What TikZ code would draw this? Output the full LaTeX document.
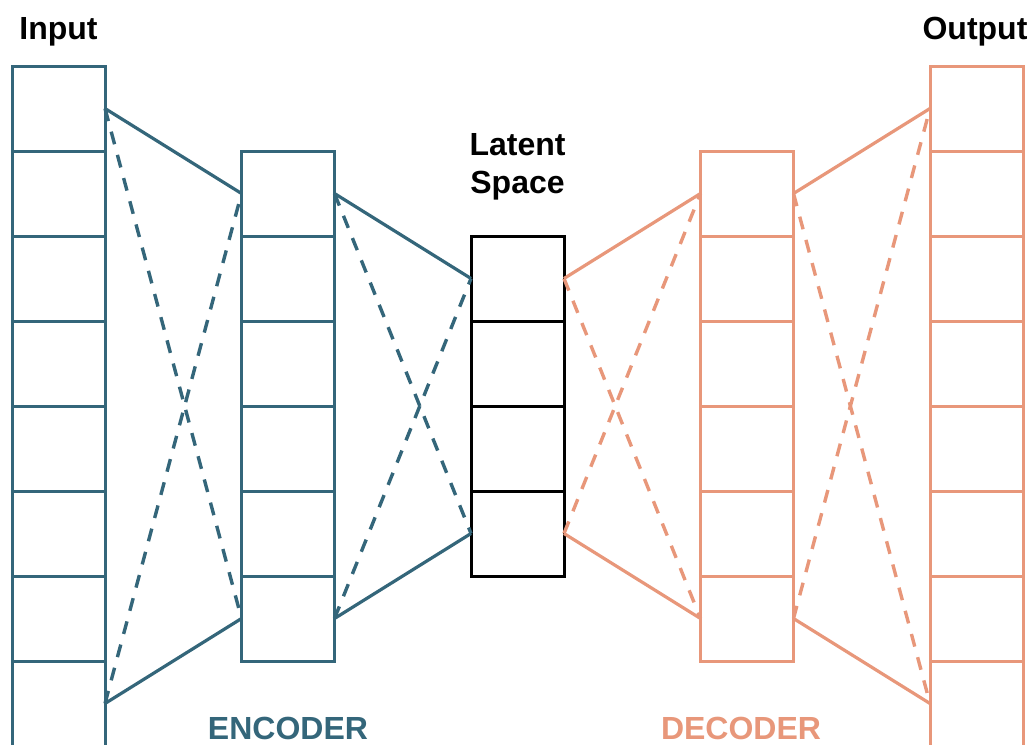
\documentclass[tikz,border=0pt]{standalone}
\usepackage{fontspec}
\setmainfont{Liberation Sans}
\usepackage{tikz}
\usepackage{xcolor}
\usetikzlibrary{positioning}
\definecolor{encteal}{HTML}{34667A}
\definecolor{decsalmon}{HTML}{E8977A}
\definecolor{ink}{HTML}{000000}
\tikzset{
  cell/.style={draw,line width=3pt,minimum width=93pt,minimum height=85pt,
               inner sep=0pt,outer sep=0pt},
  solidlink/.style={line width=3.2pt},
  dashlink/.style={line width=3.4pt,dash pattern=on 13pt off 11pt},
  title/.style={font=\fontsize{32}{38}\selectfont\bfseries,inner sep=0pt,align=center}
}

\begin{document}
\begin{tikzpicture}[x=1pt,y=-1pt]
  \useasboundingbox (0,0) rectangle (1033,744);

  % columns of cells: input, encoder, latent, decoder, output
  \foreach \col/\x/\n/\clr in {in/58.5/8/encteal,enc/288/6/encteal,lat/517.5/4/ink,dec/747/6/decsalmon,out/976.5/8/decsalmon} {
    \foreach \i in {1,...,\n} {
      \node[cell,draw=\clr] (\col\i) at (\x,{406-\n*42.5+(\i-0.5)*85}) {};
    }
  }

  % encoder links
  \draw[solidlink,encteal] (in1.east) -- (enc1.west);
  \draw[solidlink,encteal] (in8.east) -- (enc6.west);
  \draw[dashlink,encteal] (in1.east) -- (enc6.west);
  \draw[dashlink,encteal] (in8.east) -- (enc1.west);
  \draw[solidlink,encteal] (enc1.east) -- (lat1.west);
  \draw[solidlink,encteal] (enc6.east) -- (lat4.west);
  \draw[dashlink,encteal] (enc1.east) -- (lat4.west);
  \draw[dashlink,encteal] (enc6.east) -- (lat1.west);

  % decoder links
  \draw[solidlink,decsalmon] (lat1.east) -- (dec1.west);
  \draw[solidlink,decsalmon] (lat4.east) -- (dec6.west);
  \draw[dashlink,decsalmon] (lat1.east) -- (dec6.west);
  \draw[dashlink,decsalmon] (lat4.east) -- (dec1.west);
  \draw[solidlink,decsalmon] (dec1.east) -- (out1.west);
  \draw[solidlink,decsalmon] (dec6.east) -- (out8.west);
  \draw[dashlink,decsalmon] (dec1.east) -- (out8.west);
  \draw[dashlink,decsalmon] (dec6.east) -- (out1.west);

  % labels
  \node[title,anchor=base] (intitle) at (58.5,39) {Input};
  \node[title,anchor=base] (outtitle) at (975,39) {Output};
  \node[title,anchor=south] (lattitle) at (517.5,200) {Latent\\Space};
  \node[title,anchor=base,text=encteal] (enclabel) at (288,739) {ENCODER};
  \node[title,anchor=base,text=decsalmon] (declabel) at (741,739) {DECODER};
\end{tikzpicture}
\end{document}
